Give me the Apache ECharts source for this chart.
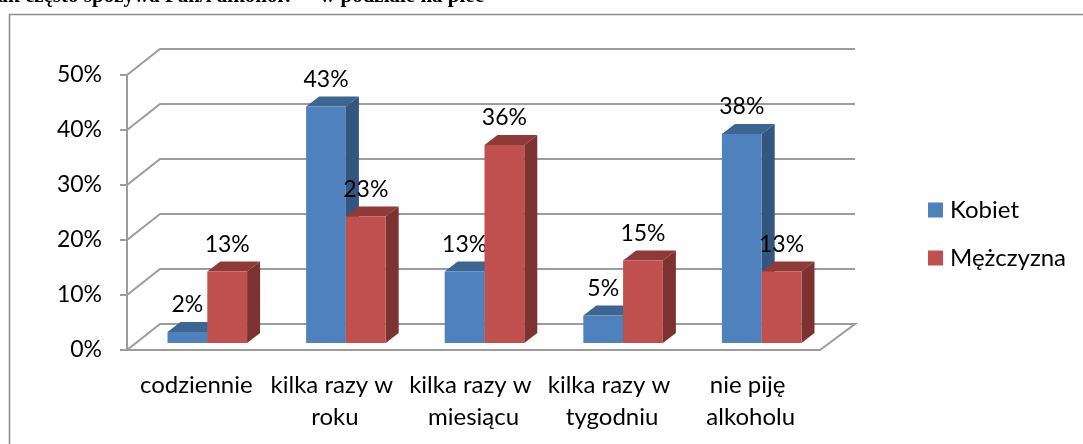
<!DOCTYPE html>
<html>
<head>
<meta charset="utf-8">
<style>
html, body { margin: 0; padding: 0; background: #fff; overflow: hidden; }
#chart { width: 1083px; height: 444px; }
</style>
<script src="https://cdn.jsdelivr.net/npm/echarts@6/dist/echarts.min.js"></script>
</head>
<body>
<div id="chart"></div>
<script>
var categories = ['codziennie', 'kilka razy w roku', 'kilka razy w miesiącu', 'kilka razy w tygodniu', 'nie piję alkoholu']
var kobiet = [2, 43, 13, 5, 38]
var mezczyzna = [13, 23, 36, 15, 13]
var ticks = [0, 10, 20, 30, 40, 50]
var titleText = 'Jak często spożywa Pan/i alkohol?     w podziale na płeć'

var FONT = 'Lato, Carlito, sans-serif'
var GRID_COLOR = '#9c9c9c'
// przesuniecie tylnej sciany i slupkow wzgledem osi (pseudo 3D)
var WALL_DX = 33
var WALL_DX_RIGHT = 35
var WALL_DY = -26
var BAR_DX = 11
var BAR_DY = -7
var SIDE_DX = 13
var SIDE_DY = -10

function wallItem (params, api) {
  var p = api.coord([0, api.value(0)])
  var left = params.coordSys.x
  var right = left + params.coordSys.width
  var y = p[1]
  var isFloor = api.value(0) === 0
  var points = [[left, y], [left + WALL_DX, y + WALL_DY], [right + WALL_DX_RIGHT, y + WALL_DY]]
  if (isFloor) points.push([right, y])
  return {
    type: 'polyline',
    shape: { points: points },
    style: { fill: null, stroke: GRID_COLOR, lineWidth: 2 }
  }
}

function barItem (seriesIdx, front, top, side) {
  return function (params, api) {
    var cat = api.value(0)
    var val = api.value(1)
    var p0 = api.coord([cat, 0])
    var p1 = api.coord([cat, val])
    var w = api.size([1, 0])[0] * 0.287
    var x = p0[0] + BAR_DX + (seriesIdx === 0 ? -w : 0)
    var y0 = p0[1] + BAR_DY
    var y1 = p1[1] + BAR_DY
    return {
      type: 'group',
      children: [
        {
          type: 'polygon',
          shape: { points: [[x, y1], [x + SIDE_DX, y1 + SIDE_DY], [x + w + SIDE_DX, y1 + SIDE_DY], [x + w, y1]] },
          style: { fill: top }
        },
        {
          type: 'polygon',
          shape: { points: [[x + w, y1], [x + w + SIDE_DX, y1 + SIDE_DY], [x + w + SIDE_DX, y0 + SIDE_DY], [x + w, y0]] },
          style: { fill: side }
        },
        {
          type: 'rect',
          shape: { x: x, y: y1, width: w, height: y0 - y1 },
          style: { fill: front }
        },
        {
          type: 'text',
          style: {
            x: x + w / 2,
            y: y1 - 27,
            text: val + '%',
            fill: '#000',
            font: '23px ' + FONT,
            align: 'center',
            verticalAlign: 'middle'
          }
        }
      ]
    }
  }
}

var chart = echarts.init(document.getElementById('chart'))
chart.setOption({
  animation: false,
  backgroundColor: '#fff',
  graphic: [
    {
      type: 'rect',
      shape: { x: 9.5, y: 14.5, width: 1200, height: 600 },
      style: { fill: null, stroke: '#8c8c8c', lineWidth: 1.5 },
      z: 0
    },
    {
      type: 'text',
      style: {
        x: 484,
        y: 7,
        text: titleText,
        font: 'bold 21px "Liberation Serif"',
        fill: '#000',
        align: 'right',
        verticalAlign: 'bottom'
      }
    }
  ],
  legend: {
    orient: 'vertical',
    left: 923,
    top: 193,
    itemWidth: 15,
    itemHeight: 15,
    itemGap: 24,
    icon: 'rect',
    selectedMode: false,
    data: ['Kobiet', 'Mężczyzna'],
    textStyle: { fontFamily: FONT, fontSize: 24, color: '#000', lineHeight: 24, padding: [0, 0, 0, 2] }
  },
  grid: { left: 127, top: 75, width: 693, height: 275 },
  xAxis: {
    type: 'category',
    data: categories,
    axisLine: { lineStyle: { color: GRID_COLOR, width: 2 } },
    axisTick: { alignWithLabel: false, length: 7, lineStyle: { color: GRID_COLOR, width: 2 } },
    axisLabel: {
      interval: 0,
      color: '#000',
      fontFamily: FONT,
      fontSize: 24,
      lineHeight: 32,
      margin: 19,
      width: 135,
      overflow: 'break'
    }
  },
  yAxis: {
    type: 'value',
    min: 0,
    max: 50,
    interval: 10,
    splitLine: { show: false },
    axisLine: { show: true, lineStyle: { color: GRID_COLOR, width: 2 } },
    axisTick: { show: true, length: 7, lineStyle: { color: GRID_COLOR, width: 2 } },
    axisLabel: {
      color: '#000',
      fontFamily: FONT,
      fontSize: 23,
      margin: 25,
      formatter: function (v) { return v + '%' }
    }
  },
  series: [
    {
      type: 'custom',
      name: 'wall',
      silent: true,
      z: 1,
      renderItem: wallItem,
      data: ticks.map(function (t) { return [t] }),
      encode: { y: 0 }
    },
    {
      type: 'custom',
      name: 'Kobiet',
      z: 2,
      color: '#4F81BD',
      renderItem: barItem(0, '#4F81BD', '#3D6591', '#33557F'),
      data: kobiet.map(function (v, i) { return [i, v] }),
      encode: { x: 0, y: 1 }
    },
    {
      type: 'custom',
      name: 'Mężczyzna',
      z: 3,
      color: '#C0504D',
      renderItem: barItem(1, '#C0504D', '#8F3A38', '#7D3231'),
      data: mezczyzna.map(function (v, i) { return [i, v] }),
      encode: { x: 0, y: 1 }
    }
  ]
})
</script>
</body>
</html>
